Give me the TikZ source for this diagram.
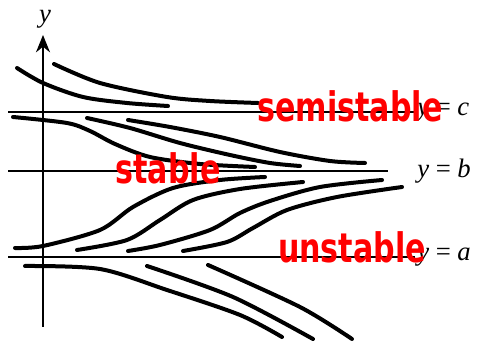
\documentclass[tikz,border=0pt]{standalone}
\usepackage{graphicx}
\usepackage{fontspec}
\setmainfont{Liberation Serif}
\newfontfamily\markerfont{DejaVu Sans}
\usetikzlibrary{arrows.meta}

\begin{document}
\begin{tikzpicture}[
  x=0.75pt,y=-0.75pt,
  flow/.style={line width=3pt,line cap=round},
  eqline/.style={line width=1.5pt},
  axis/.style={line width=1.5pt,-{Stealth[length=13pt,width=10.5pt]}},
  eq/.style={font=\fontsize{20}{22}\selectfont,inner sep=0pt},
  note/.style={text=red,inner sep=0pt,font=\markerfont\bfseries\fontsize{22.6}{24}\selectfont},
]
\useasboundingbox (0,0) rectangle (479,341);
\draw[axis] (43,327) -- (43,35);
\node[eq] (ylbl) at (45,19) {\textit{y}};
\draw[eqline] (8,112) -- (415,112);
\draw[eqline] (8,171) -- (388,171);
\draw[eqline] (8,257) -- (415,257);
\node[eq,anchor=west] (lblc) at (417,112) {\textit{y} = \textit{c}};
\node[eq,anchor=west] (lblb) at (417,171) {\textit{y} = \textit{b}};
\node[eq,anchor=west] (lbla) at (417,257) {\textit{y} = \textit{a}};
\draw[flow] plot[smooth] coordinates {(17,68) (43,83) (83,97) (127,103) (168,106)};
\draw[flow] plot[smooth] coordinates {(54,64) (100,83) (167,97) (210,101) (258,103)};
\draw[flow] plot[smooth] coordinates {(13,117) (67,123) (90,131) (115,144) (150,157) (200,164) (255,167)};
\draw[flow] plot[smooth] coordinates {(87,118) (130,128) (180,143) (230,155) (270,163) (300,166)};
\draw[flow] plot[smooth] coordinates {(128,120) (170,127) (220,137) (280,152) (330,161) (365,163)};
\draw[flow] plot[smooth] coordinates {(15,248) (43,246) (100,230) (133,207) (173,188) (220,180) (265,177)};
\draw[flow] plot[smooth] coordinates {(77,250) (127,240) (160,220) (193,200) (240,189) (303,182)};
\draw[flow] plot[smooth] coordinates {(128,251) (160,245) (210,230) (240,213) (270,201) (320,187) (382,180)};
\draw[flow] plot[smooth] coordinates {(183,251) (227,242) (253,228) (287,210) (337,197) (402,187)};
\draw[flow] plot[smooth] coordinates {(25,266) (100,269) (167,290) (240,315) (282,337)};
\draw[flow] plot[smooth] coordinates {(147,266) (233,297) (313,339)};
\draw[flow] plot[smooth] coordinates {(208,265) (300,307) (352,339)};
\node[note] (semi) at (350,106) {\scalebox{1}[1.35]{semistable}};
\node[note] (stab) at (168,168) {\scalebox{1}[1.35]{stable}};
\node[note] (unst) at (352,247) {\scalebox{1}[1.35]{unstable}};
\end{tikzpicture}
\end{document}
